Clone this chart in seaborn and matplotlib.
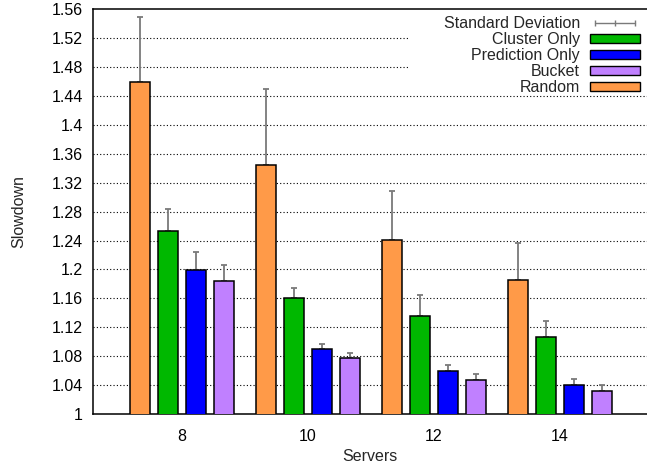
import numpy as np
import pandas as pd
import matplotlib
matplotlib.use("Agg")
import matplotlib.pyplot as plt
from matplotlib.patches import Patch, Rectangle
from matplotlib.lines import Line2D
import seaborn as sns

# Server counts (x categories)
servers = ["8", "10", "12", "14"]

# Mean slowdown per scheduling method
random_mean = [1.459, 1.345, 1.241, 1.186]
cluster_mean = [1.253, 1.161, 1.135, 1.107]
prediction_mean = [1.199, 1.090, 1.059, 1.040]
bucket_mean = [1.184, 1.077, 1.047, 1.032]

# Standard deviation per scheduling method
random_sd = [0.090, 0.105, 0.068, 0.051]
cluster_sd = [0.030, 0.013, 0.030, 0.021]
prediction_sd = [0.025, 0.007, 0.009, 0.008]
bucket_sd = [0.022, 0.008, 0.009, 0.008]

methods = ["Random", "Cluster Only", "Prediction Only", "Bucket"]
legend_order = ["Cluster Only", "Prediction Only", "Bucket", "Random"]
colors = {"Random": "#FF9A48", "Cluster Only": "#00B800",
          "Prediction Only": "#0000FF", "Bucket": "#C080FF"}

y_ticks = [1.00, 1.04, 1.08, 1.12, 1.16, 1.20, 1.24, 1.28, 1.32, 1.36,
           1.40, 1.44, 1.48, 1.52, 1.56]
y_tick_labels = ["1", "1.04", "1.08", "1.12", "1.16", "1.2", "1.24", "1.28",
                 "1.32", "1.36", "1.4", "1.44", "1.48", "1.52", "1.56"]

means = {"Random": random_mean, "Cluster Only": cluster_mean,
         "Prediction Only": prediction_mean, "Bucket": bucket_mean}
sds = {"Random": random_sd, "Cluster Only": cluster_sd,
       "Prediction Only": prediction_sd, "Bucket": bucket_sd}

rows = []
for m in methods:
    for s, v in zip(servers, means[m]):
        rows.append({"Servers": s, "Slowdown": v, "Method": m})
df = pd.DataFrame(rows)

FS = 11.5
sns.set_theme(style="white")
plt.rcParams["font.family"] = ["Liberation Sans", "DejaVu Sans"]
plt.rcParams["font.size"] = FS

W, H = 647, 468
fig = plt.figure(figsize=(W / 100, H / 100), dpi=100)
left, right, top, bottom = 92.5, 647.0, 9.3, 414.0
ax = fig.add_axes([left / W, 1 - bottom / H, (right - left) / W, (bottom - top) / H])

sns.barplot(data=df, x="Servers", y="Slowdown", hue="Method",
            hue_order=methods, order=servers, palette=colors,
            width=0.889, gap=0.3, edgecolor="black", linewidth=1.1,
            errorbar=None, saturation=1, legend=False, ax=ax, zorder=3)

# Upper error bars, positioned from the drawn bars
for m, cont in zip(methods, ax.containers):
    xs = [p.get_x() + p.get_width() / 2 for p in cont.patches]
    ys = [p.get_height() for p in cont.patches]
    ax.errorbar(xs, ys, yerr=[np.zeros(len(ys)), sds[m]], fmt="none",
                ecolor="#7a7a7a", elinewidth=1.3, capsize=2.5, capthick=1.3,
                zorder=2)

ax.set_xlim(-0.71, 3.69)
ax.set_ylim(1.0, 1.56)
ax.set_yticks(y_ticks)
ax.set_yticklabels(y_tick_labels)
for yt in y_ticks[1:-1]:
    ax.axhline(yt, color="black", lw=0.8, ls=(0, (1, 2)), zorder=0.5)

ax.tick_params(axis="both", length=0, labelsize=FS, colors="black")
ax.tick_params(axis="y", pad=7)
ax.tick_params(axis="x", pad=11)
for side in ["left", "top", "bottom"]:
    ax.spines[side].set_color("black")
    ax.spines[side].set_linewidth(1.1)
ax.spines["right"].set_visible(False)

ax.set_xlabel("Servers", fontsize=FS)
ax.set_ylabel("Slowdown", fontsize=FS)
ax.xaxis.set_label_coords(0.5, -0.087)
ax.yaxis.set_label_coords(-0.12, 0.5)

# White key area over the grid
ax.add_patch(Rectangle(((410 - left) / (right - left), (bottom - 92) / (bottom - top)),
                       1.0, 1.0, transform=ax.transAxes, facecolor="white",
                       edgecolor="none", zorder=1, clip_on=True))

handles = [Line2D([], [], color="#7a7a7a", lw=1.0, marker="|", markersize=5,
                  markeredgewidth=1.0)]
labels = ["Standard Deviation"]
for m in legend_order:
    handles.append(Patch(facecolor=colors[m], edgecolor="black", linewidth=1.0))
    labels.append(m)
leg = ax.legend(handles, labels, loc="upper right", bbox_to_anchor=(1.0, 1.0),
                frameon=False, markerfirst=False, numpoints=3,
                handlelength=3.1, handleheight=0.5, handletextpad=0.65,
                labelspacing=0.06, borderaxespad=0.05, borderpad=0.4,
                fontsize=FS)
leg.set_zorder(5)

fig.savefig("out.png", dpi=100)
